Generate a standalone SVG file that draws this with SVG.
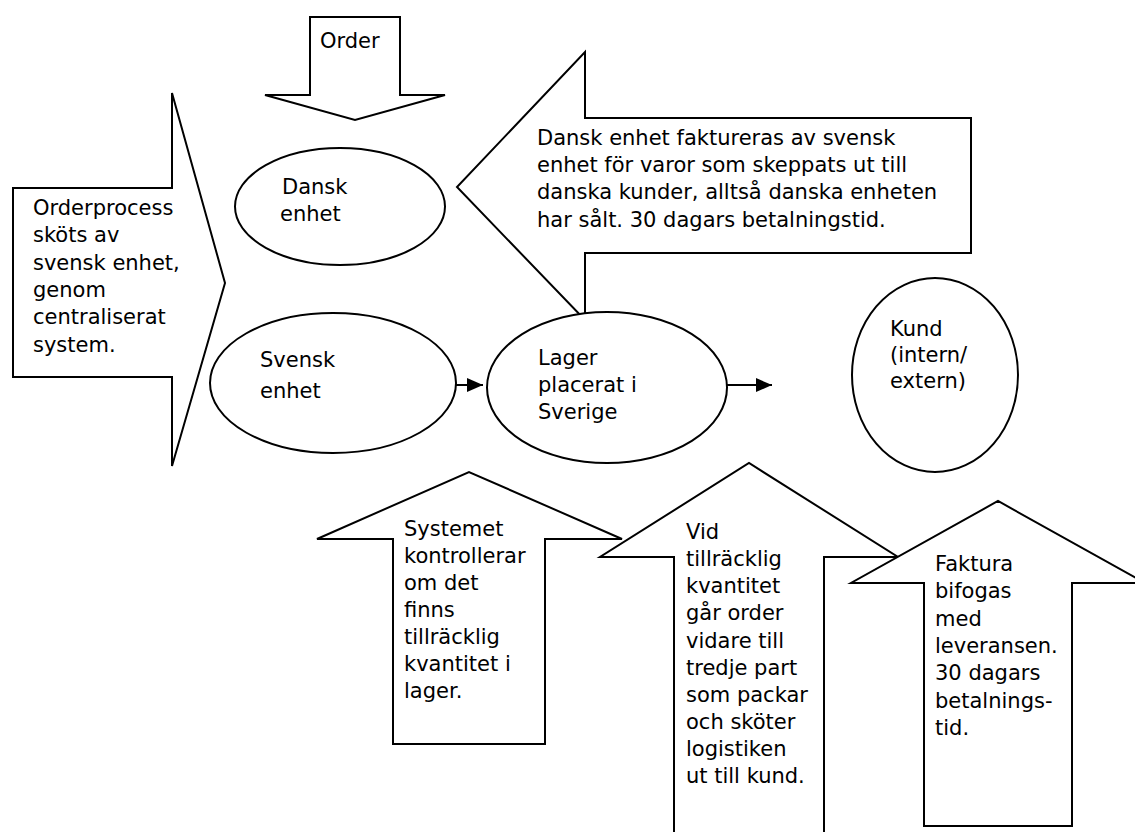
<svg xmlns="http://www.w3.org/2000/svg" width="1135" height="832" viewBox="0 0 1135 832">
<defs>
<style>
.shape{fill:#fff;stroke:#000;stroke-width:2;stroke-linejoin:miter}
.t{font-family:"DejaVu Sans","Liberation Sans",sans-serif;font-size:21px;fill:#000}
.conn{stroke:#000;stroke-width:2;fill:none}
</style>
<marker id="ah" markerUnits="userSpaceOnUse" markerWidth="16" markerHeight="14" refX="16" refY="7" orient="auto">
<path d="M0,0 L16,7 L0,14 Z" fill="#000"/>
</marker>
</defs>
<rect width="1135" height="832" fill="#fff"/>

<g id="order">
<path class="shape" d="M310,17 L400,17 L400,95 L445,95 L355,120 L265,95 L310,95 Z"/>
<text class="t" x="320" y="48">Order</text>
</g>

<g id="orderprocess">
<path class="shape" d="M13,188 L172,188 L172,93 L225,283 L172,466 L172,377 L13,377 Z"/>
<text class="t" x="33" y="215">Orderprocess</text>
<text class="t" x="33" y="242.3">sköts av</text>
<text class="t" x="33" y="269.6">svensk enhet,</text>
<text class="t" x="33" y="296.9">genom</text>
<text class="t" x="33" y="324.2">centraliserat</text>
<text class="t" x="33" y="351.5">system.</text>
</g>

<g id="dansk">
<ellipse class="shape" cx="340" cy="206.5" rx="105" ry="58.5"/>
<text class="t" x="282" y="194">Dansk</text>
<text class="t" x="280" y="221">enhet</text>
</g>

<g id="svensk">
<ellipse class="shape" cx="333" cy="383" rx="123" ry="70"/>
<text class="t" x="260" y="367">Svensk</text>
<text class="t" x="260" y="398">enhet</text>
</g>

<g id="faktureras">
<path class="shape" d="M585,118 L971,118 L971,253 L585,253 L585,320 L457,187 L585,52 Z"/>
<text class="t" x="537" y="145">Dansk enhet faktureras av svensk</text>
<text class="t" x="537" y="172">enhet för varor som skeppats ut till</text>
<text class="t" x="537" y="199">danska kunder, alltså danska enheten</text>
<text class="t" x="537" y="226.5">har sålt. 30 dagars betalningstid.</text>
</g>

<g id="lager">
<ellipse class="shape" cx="607" cy="387.5" rx="120" ry="75.5"/>
<text class="t" x="538" y="365">Lager</text>
<text class="t" x="538" y="392">placerat i</text>
<text class="t" x="538" y="418.5">Sverige</text>
</g>

<g id="kund">
<ellipse class="shape" cx="935" cy="375" rx="83" ry="97"/>
<text class="t" x="890" y="336">Kund</text>
<text class="t" x="890" y="362">(intern/</text>
<text class="t" x="890" y="388">extern)</text>
</g>

<g id="systemet">
<path class="shape" d="M393,744 L393,539 L317,539 L469,472 L622,539 L545,539 L545,744 Z"/>
<text class="t" x="404" y="536">Systemet</text>
<text class="t" x="404" y="563">kontrollerar</text>
<text class="t" x="404" y="590">om det</text>
<text class="t" x="404" y="617">finns</text>
<text class="t" x="404" y="644">tillräcklig</text>
<text class="t" x="404" y="671">kvantitet i</text>
<text class="t" x="404" y="698">lager.</text>
</g>

<g id="vid">
<path class="shape" d="M674,840 L674,557 L600,557 L749,463 L898,557 L824,557 L824,840 Z"/>
<text class="t" x="686" y="539">Vid</text>
<text class="t" x="686" y="566.1">tillräcklig</text>
<text class="t" x="686" y="593.3">kvantitet</text>
<text class="t" x="686" y="620.4">går order</text>
<text class="t" x="686" y="647.6">vidare till</text>
<text class="t" x="686" y="674.7">tredje part</text>
<text class="t" x="686" y="701.9">som packar</text>
<text class="t" x="686" y="729">och sköter</text>
<text class="t" x="686" y="756.2">logistiken</text>
<text class="t" x="686" y="783.3">ut till kund.</text>
</g>

<g id="faktura">
<path class="shape" d="M924,826 L924,583 L851,583 L998,501 L1145,583 L1072,583 L1072,826 Z"/>
<text class="t" x="935" y="571">Faktura</text>
<text class="t" x="935" y="598.3">bifogas</text>
<text class="t" x="935" y="625.6">med</text>
<text class="t" x="935" y="653">leveransen.</text>
<text class="t" x="935" y="680.3">30 dagars</text>
<text class="t" x="935" y="707.6">betalnings-</text>
<text class="t" x="935" y="735">tid.</text>
</g>

<g id="connectors">
<line class="conn" x1="456" y1="385" x2="483" y2="385" marker-end="url(#ah)"/>
<line class="conn" x1="727" y1="385" x2="772" y2="385" marker-end="url(#ah)"/>
</g>
</svg>
